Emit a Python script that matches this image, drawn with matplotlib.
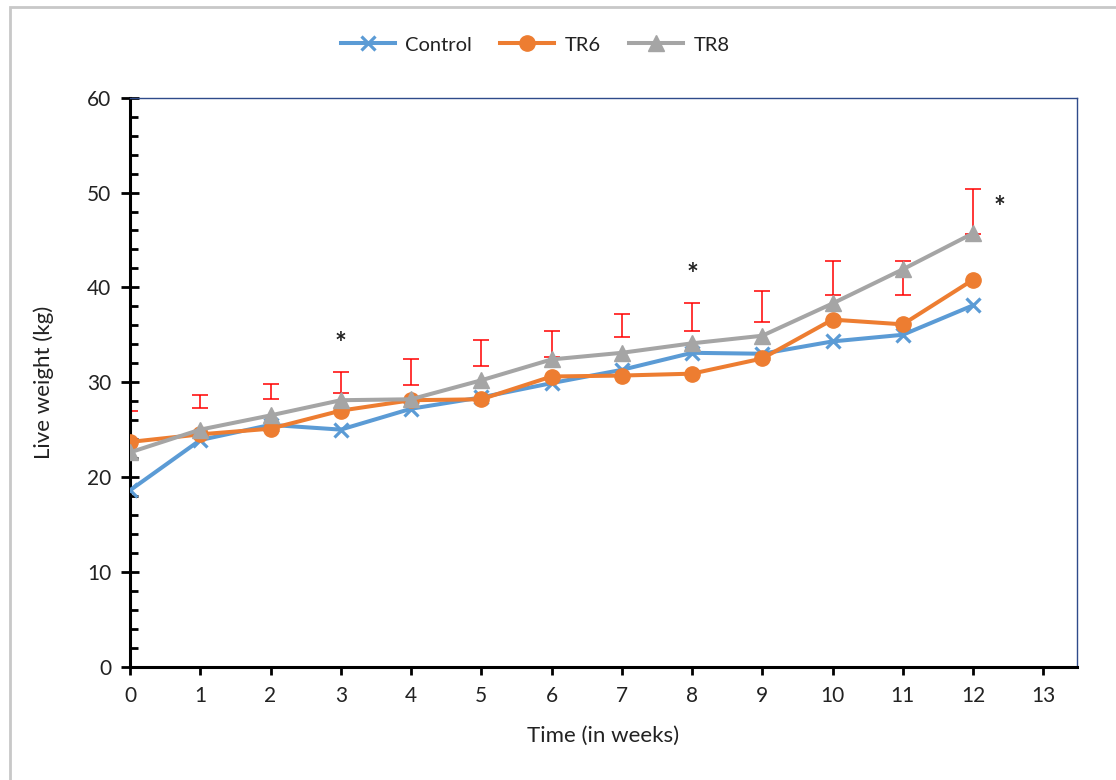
import matplotlib
matplotlib.use("Agg")
import matplotlib.pyplot as plt
from matplotlib.patches import Rectangle
from matplotlib.ticker import MultipleLocator
import numpy as np

weeks = [0, 1, 2, 3, 4, 5, 6, 7, 8, 9, 10, 11, 12]
control = [18.6, 23.9, 25.5, 25.0, 27.2, 28.4, 29.9, 31.3, 33.1, 33.0, 34.3, 35.0, 38.1]
tr6 = [23.7, 24.5, 25.1, 27.0, 28.1, 28.2, 30.6, 30.7, 30.9, 32.5, 36.6, 36.1, 40.8]
tr8 = [22.6, 25.0, 26.5, 28.1, 28.2, 30.2, 32.4, 33.1, 34.1, 34.9, 38.3, 41.9, 45.7]
err_low = [24.0, 27.3, 28.2, 28.9, 29.7, 31.7, 32.7, 34.8, 35.4, 36.4, 39.2, 39.2, 45.6]
err_high = [27.0, 28.7, 29.8, 31.1, 32.4, 34.4, 35.4, 37.2, 38.4, 39.6, 42.8, 42.8, 50.4]
star_x = [3, 8, 12.38]
star_y = [34.0, 41.3, 48.4]

plt.rcParams['font.family'] = ['Lato', 'DejaVu Sans']

fig = plt.figure(figsize=(11.16, 7.80), dpi=100)
fig.patch.set_facecolor('white')
fig.patches.append(Rectangle((10/1116, -0.1), 1.2, 1 - 7/780 + 0.1, transform=fig.transFigure,
                             fill=False, edgecolor='#C8C8C8', linewidth=2, zorder=0))

ax = fig.add_axes([130/1116, 1 - 666.7/780, (1077 - 130)/1116, (666.7 - 97.7)/780])

lo = np.array(err_low); hi = np.array(err_high)
ax.errorbar(weeks, (lo + hi) / 2, yerr=(hi - lo) / 2, fmt='none', ecolor='#FF0000',
            elinewidth=1.1, capsize=6, capthick=1.1, zorder=2)

ax.plot(weeks, control, color='#5B9BD5', lw=2.9, marker='x', markersize=10, mew=2.3,
        label='Control', zorder=3)
ax.plot(weeks, tr6, color='#ED7D31', lw=2.9, marker='o', markersize=11,
        label='TR6', zorder=4)
ax.plot(weeks, tr8, color='#A5A5A5', lw=2.9, marker='^', markersize=11,
        label='TR8', zorder=5)

for x, y in zip(star_x, star_y):
    ax.text(x, y, '*', ha='center', va='center', fontsize=20, fontweight='bold',
            color='#222222')

ax.set_xlim(0, 13.48)
ax.set_ylim(0, 60)
ax.xaxis.set_major_locator(MultipleLocator(1))
ax.yaxis.set_major_locator(MultipleLocator(10))
ax.yaxis.set_minor_locator(MultipleLocator(2))
ax.set_xticks(range(0, 14))

for s in ['left', 'bottom']:
    ax.spines[s].set_color('black')
    ax.spines[s].set_linewidth(2.2)
for s in ['top', 'right']:
    ax.spines[s].set_color('#2F4B8A')
    ax.spines[s].set_linewidth(1.0)

ax.tick_params(axis='y', which='major', direction='inout', length=13, width=2, labelsize=15, pad=7,
               labelcolor='#222222')
ax.tick_params(axis='y', which='minor', direction='in', length=6, width=2)
ax.tick_params(axis='x', which='major', direction='out', length=6, width=2, labelsize=15, pad=8,
               labelcolor='#222222')
ax.tick_params(top=False, right=False)

ax.set_xlabel('Time (in weeks)', fontsize=16, labelpad=14, color='#222222')
ax.set_ylabel('Live weight (kg)', fontsize=16, labelpad=24, color='#222222')

leg = fig.legend(loc='center', bbox_to_anchor=(535/1116, 1 - 45/780), ncol=3, frameon=False,
                 fontsize=14.5, handlelength=2.7, columnspacing=1.4, handletextpad=0.5)
for t in leg.get_texts():
    t.set_color('#222222')

fig.savefig('out.png', dpi=100, facecolor='white')
